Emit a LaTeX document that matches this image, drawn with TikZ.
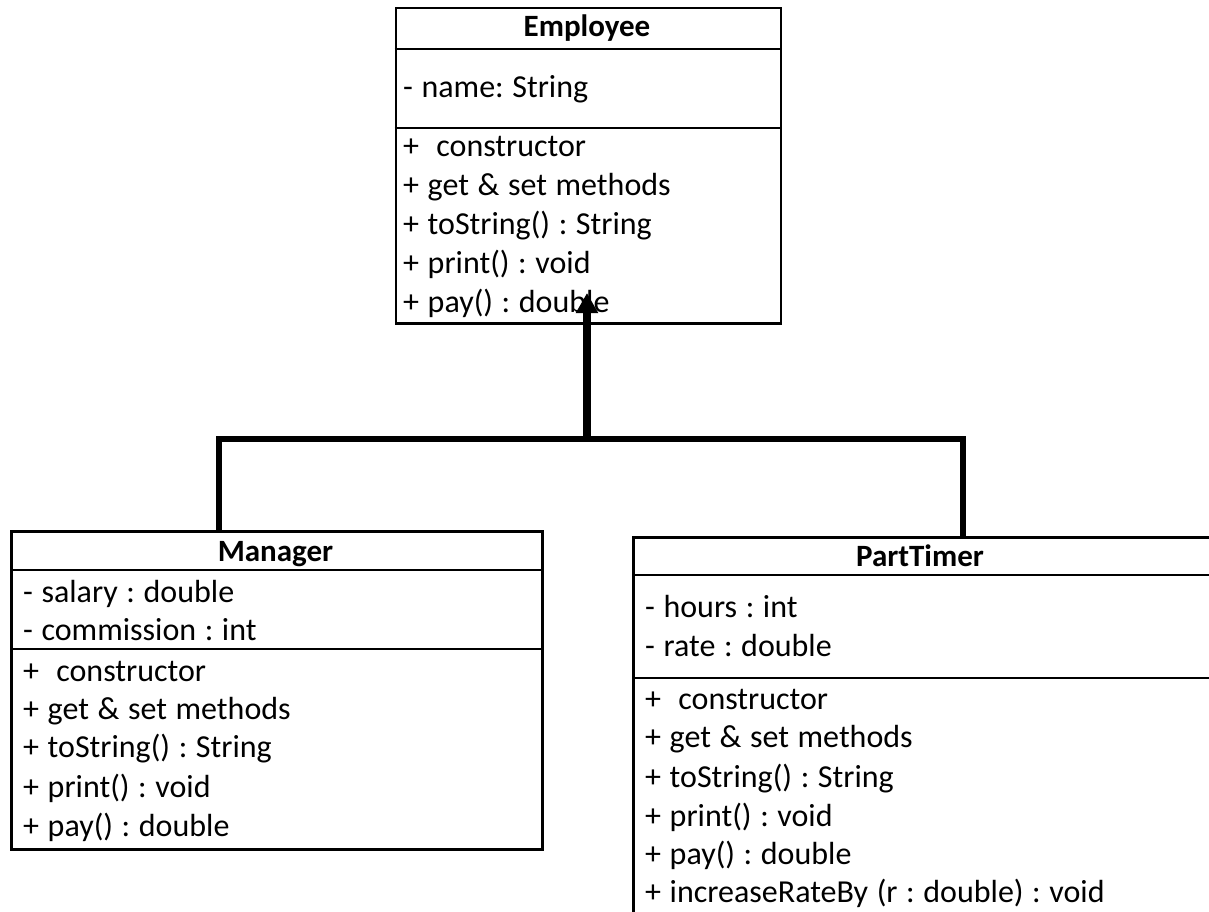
\documentclass[tikz,border=0pt]{standalone}
\usepackage{fontspec}
\setmainfont{Carlito}
\usetikzlibrary{arrows.meta}
\begin{document}
\frenchspacing
\begin{tikzpicture}[x=1pt,y=-1pt,
  box/.style={draw, line width=2.5pt, inner sep=0pt, anchor=north west},
  txt/.style={anchor=base west, inner sep=0pt, font={\fontsize{32}{38}\selectfont\spaceskip=8.6pt\relax}},
  hdr/.style={anchor=base, inner sep=0pt, font=\fontsize{31}{37}\selectfont\bfseries},
  sep/.style={line width=2.5pt},
  conn/.style={line width=5.5pt, line join=miter},
  inherit/.style={line width=7.5pt, -{Triangle[width=21pt,length=20pt]}}]
\useasboundingbox (0,0) rectangle (1209,912);
\clip (0,0) rectangle (1209,912);

% ---------- Employee ----------
\node[box, minimum width=385pt, minimum height=315pt] (emp) at (394.5,7) {};
\draw[sep] (394.5,49) -- (779.5,49);
\draw[sep] (394.5,128) -- (779.5,128);
\node[hdr] (empH) at (587,37) {Employee};
\node[txt] (emp1) at (403,98) {- name: String};
\node[txt] (emp2) at (403,157) {+\ \ constructor};
\node[txt] (emp3) at (403,195) {+ get \& set methods};
\node[txt] (emp4) at (403,234) {+ toString() : String};
\node[txt] (emp5) at (403,273) {+ print() : void};
\node[txt] (emp6) at (403,312) {+ pay() : double};

% ---------- Manager ----------
\node[box, minimum width=531pt, minimum height=318pt] (mgr) at (10,530) {};
\draw[sep] (10,570) -- (541,570);
\draw[sep] (10,649) -- (541,649);
\node[hdr] (mgrH) at (275.5,561) {Manager};
\node[txt] (mgr1) at (23,602) {- salary : double};
\node[txt] (mgr2) at (23,640) {- commission : int};
\node[txt] (mgr3) at (23,681) {+\ \ constructor};
\node[txt] (mgr4) at (23,719) {+ get \& set methods};
\node[txt] (mgr5) at (23,757) {+ toString() : String};
\node[txt] (mgr6) at (23,797) {+ print() : void};
\node[txt] (mgr7) at (23,836) {+ pay() : double};

% ---------- PartTimer ----------
\node[box, minimum width=600pt, minimum height=400pt] (pt) at (632,536) {};
\draw[sep] (632,575) -- (1215,575);
\draw[sep] (632,678) -- (1215,678);
\node[hdr] (ptH) at (920,566) {PartTimer};
\node[txt] (pt1) at (645,617) {- hours : int};
\node[txt] (pt2) at (645,656) {- rate : double};
\node[txt] (pt3) at (645,709) {+\ \ constructor};
\node[txt] (pt4) at (645,747) {+ get \& set methods};
\node[txt] (pt5) at (645,787) {+ toString() : String};
\node[txt] (pt6) at (645,826) {+ print() : void};
\node[txt] (pt7) at (645,864) {+ pay() : double};
\node[txt] (pt8) at (645,902) {+ increaseRateBy (r : double) : void};

% ---------- connectors ----------
\coordinate (jL) at (219,439);
\coordinate (jR) at (963,439);
\coordinate (jM) at (587,439);
\coordinate (tip) at (587,293);
\draw[conn] (jL |- mgr.north) -- (jL) -- (jR) -- (jR |- pt.north);
\draw[inherit] (jM) -- (tip);
\end{tikzpicture}
\end{document}
